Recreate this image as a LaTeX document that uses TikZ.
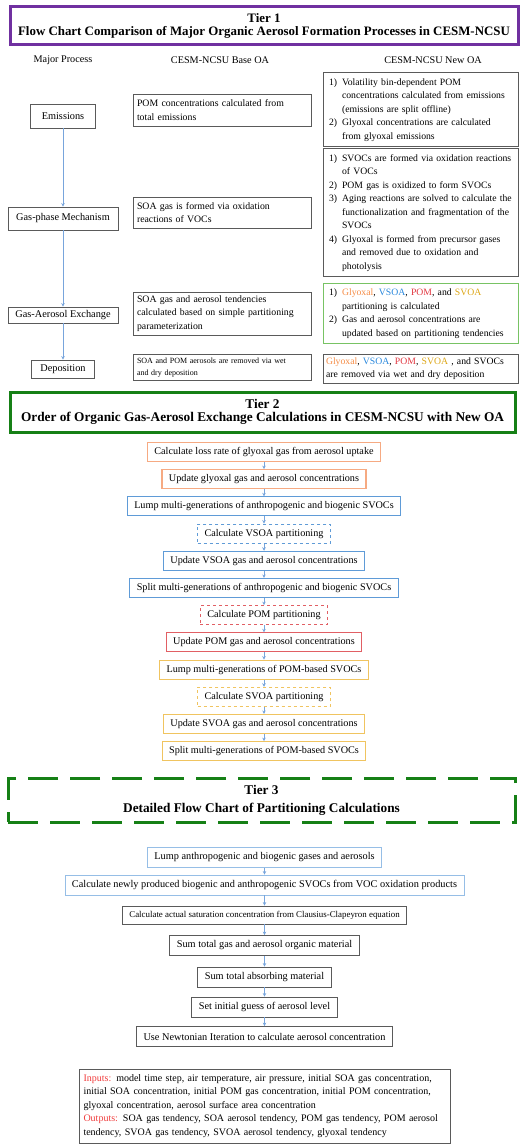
\documentclass[tikz,border=0pt]{standalone}
\usepackage{fontspec}
\setmainfont{Liberation Serif}
\usepackage{xcolor}
\usetikzlibrary{positioning, arrows.meta}
\definecolor{tierpurple}{RGB}{112,48,160}
\definecolor{tiergreen}{RGB}{22,128,22}
\definecolor{boxgray}{RGB}{90,90,90}
\definecolor{arrowblue}{RGB}{120,165,220}
\definecolor{orangeline}{RGB}{246,170,130}
\definecolor{blueline}{RGB}{95,155,215}
\definecolor{redline}{RGB}{225,95,100}
\definecolor{yellowline}{RGB}{240,196,96}
\definecolor{lightblue}{RGB}{150,190,230}
\definecolor{greenline}{RGB}{120,195,100}
\definecolor{cglyoxal}{RGB}{245,140,70}
\definecolor{cvsoa}{RGB}{40,135,220}
\definecolor{cpom}{RGB}{225,55,65}
\definecolor{csvoa}{RGB}{220,165,20}
\definecolor{cinout}{RGB}{240,60,60}
\newcommand{\gly}{\textcolor{cglyoxal}{Glyoxal}}
\newcommand{\vsoa}{\textcolor{cvsoa}{VSOA}}
\newcommand{\pom}{\textcolor{cpom}{POM}}
\newcommand{\svoa}{\textcolor{csvoa}{SVOA}}
\tikzstyle{tierhead} = [line width=3pt, align=center, font=\bfseries\fontsize{13.3}{13.5}\selectfont]
\tikzstyle{colhead} = [font=\fontsize{10.2}{12}\selectfont]
\tikzstyle{major} = [draw=boxgray, line width=0.9pt, fill=white, inner sep=2pt, font=\fontsize{10.3}{12}\selectfont]
\tikzstyle{basebox} = [draw=boxgray, line width=0.9pt, text width=170pt, inner xsep=4pt, align=left, font=\fontsize{9.8}{13.5}\selectfont]
\tikzstyle{newbox} = [draw=boxgray, line width=0.9pt, text width=189pt, inner xsep=3pt, align=left, font=\fontsize{9.7}{13.5}\selectfont]
\tikzstyle{tiertwo} = [line width=1.1pt, minimum height=19pt, inner xsep=7pt, font=\fontsize{10.2}{12}\selectfont]
\tikzstyle{tierthree} = [line width=0.9pt, minimum height=20pt, inner xsep=7pt, font=\fontsize{10.3}{12}\selectfont]
\tikzstyle{flow} = [draw=arrowblue, line width=0.7pt, -{Stealth[length=3.5pt, width=3.5pt]}]

\begin{document}
\begin{tikzpicture}[x=1pt, y=-1pt, node distance=27.2pt]
\useasboundingbox (0,0) rectangle (519,1145);

% Tier 1
\node (tierone) [tierhead, draw=tierpurple, minimum width=508pt, minimum height=38pt, font=\bfseries\fontsize{12.9}{13.5}\selectfont] at (264,26) {Tier 1\\Flow Chart Comparison of Major Organic Aerosol Formation Processes in CESM-NCSU};
\node (hmajor) [colhead] at (63,60) {Major Process};
\node (hbase) [colhead] at (220,60) {CESM-NCSU Base OA};
\node (hnew) [colhead] at (433,60) {CESM-NCSU New OA};

\node (emis) [major, minimum width=65pt, minimum height=24pt] at (63,116) {Emissions};
\node (gasphase) [major, minimum width=110pt, minimum height=23pt] at (63,218.5) {Gas-phase Mechanism};
\node (exchange) [major, minimum width=110pt, minimum height=16pt] at (63,315) {Gas-Aerosol Exchange};
\node (depo) [major, minimum width=63pt, minimum height=18pt] at (63,369) {Deposition};
\draw [flow] (emis) -- (gasphase);
\draw [flow] (gasphase) -- (exchange);
\draw [flow] (exchange) -- (depo);

\node (base1) [basebox, minimum height=32pt] at (222,110) {POM concentrations calculated from\\total emissions};
\node (base2) [basebox, minimum height=31pt] at (222,212.5) {SOA gas is formed via oxidation\\reactions of VOCs};
\node (base3) [basebox, minimum height=43pt] at (222,313.5) {SOA gas and aerosol tendencies\\calculated based on simple partitioning\\parameterization};
\node (base4) [basebox, minimum height=25pt, font=\fontsize{8}{12}\selectfont] at (222,367.5) {SOA and POM aerosols are removed via wet\\and dry deposition};

\node (new1) [newbox, minimum height=71pt] at (420.5,109.5) {\begin{tabular}{@{\hspace{3pt}}l@{\hspace{5pt}}l@{}}
1) & Volatility bin-dependent POM\\
   & concentrations calculated from emissions\\
   & (emissions are split offline)\\
2) & Glyoxal concentrations are calculated\\
   & from glyoxal emissions
\end{tabular}};
\node (new2) [newbox, minimum height=121pt] at (420.5,212.5) {\begin{tabular}{@{\hspace{3pt}}l@{\hspace{5pt}}l@{}}
1) & SVOCs are formed via oxidation reactions\\
   & of VOCs\\
2) & POM gas is oxidized to form SVOCs\\
3) & Aging reactions are solved to calculate the\\
   & functionalization and fragmentation of the\\
   & SVOCs\\
4) & Glyoxal is formed from precursor gases\\
   & and removed due to oxidation and\\
   & photolysis
\end{tabular}};
\node (new3) [newbox, draw=greenline, minimum height=57pt] at (420.5,313.5) {\begin{tabular}{@{\hspace{3pt}}l@{\hspace{5pt}}l@{}}
1) & \gly, \vsoa, \pom, and \svoa\\
   & partitioning is calculated\\
2) & Gas and aerosol concentrations are\\
   & updated based on partitioning tendencies
\end{tabular}};
\node (new4) [newbox, minimum height=27pt] at (420.5,368.5) {\gly, \vsoa, \pom, \svoa\ , and SVOCs\\are removed via wet and dry deposition};

% Tier 2
\node (tiertwo) [tierhead, draw=tiergreen, minimum width=505pt, minimum height=40pt] at (262.5,412) {Tier 2\\Order of Organic Gas-Aerosol Exchange Calculations in CESM-NCSU with New OA};

\node (loss) [tiertwo, draw=orangeline] at (264,452) {Calculate loss rate of glyoxal gas from aerosol uptake};
\node (updgly) [tiertwo, draw=orangeline, below of=loss] {Update glyoxal gas and aerosol concentrations};
\node (lumpsvoc) [tiertwo, draw=blueline, below of=updgly] {Lump multi-generations of anthropogenic and biogenic SVOCs};
\node (vsoapart) [tiertwo, draw=blueline, dashed, below of=lumpsvoc] {Calculate VSOA partitioning};
\node (updvsoa) [tiertwo, draw=blueline, below of=vsoapart] {Update VSOA gas and aerosol concentrations};
\node (splitsvoc) [tiertwo, draw=blueline, below of=updvsoa] {Split multi-generations of anthropogenic and biogenic SVOCs};
\node (pompart) [tiertwo, draw=redline, dashed, below of=splitsvoc] {Calculate POM partitioning};
\node (updpom) [tiertwo, draw=redline, below of=pompart] {Update POM gas and aerosol concentrations};
\node (lumppom) [tiertwo, draw=yellowline, below of=updpom] {Lump multi-generations of POM-based SVOCs};
\node (svoapart) [tiertwo, draw=yellowline, dashed, below of=lumppom] {Calculate SVOA partitioning};
\node (updsvoa) [tiertwo, draw=yellowline, below of=svoapart] {Update SVOA gas and aerosol concentrations};
\node (splitpom) [tiertwo, draw=yellowline, below of=updsvoa] {Split multi-generations of POM-based SVOCs};
\foreach \a/\b in {loss/updgly, updgly/lumpsvoc, lumpsvoc/vsoapart, vsoapart/updvsoa, updvsoa/splitsvoc, splitsvoc/pompart, pompart/updpom, updpom/lumppom, lumppom/svoapart, svoapart/updsvoa, updsvoa/splitpom}
  \draw [flow] (\a) -- (\b);

% Tier 3
\node (tierthree) [tierhead, draw=tiergreen, dash pattern=on 30pt off 12pt, minimum width=507pt, minimum height=44pt, font=\bfseries\fontsize{13.3}{18}\selectfont] at (261.5,800) {Tier 3\\Detailed Flow Chart of Partitioning Calculations};

\node (lumpgas) [tierthree, draw=lightblue] at (264.5,857.5) {Lump anthropogenic and biogenic gases and aerosols};
\node (newsvoc) [tierthree, draw=lightblue, below of=lumpgas, node distance=27.5pt] {Calculate newly produced biogenic and anthropogenic SVOCs from VOC oxidation products};
\node (satconc) [tierthree, draw=boxgray, minimum height=18pt, font=\fontsize{8.9}{10}\selectfont, below of=newsvoc, node distance=30pt] {Calculate actual saturation concentration from Clausius-Clapeyron equation};
\node (sumgas) [tierthree, draw=boxgray, below of=satconc, node distance=30.5pt] {Sum total gas and aerosol organic material};
\node (sumabs) [tierthree, draw=boxgray, below of=sumgas, node distance=31.5pt] {Sum total absorbing material};
\node (guess) [tierthree, draw=boxgray, below of=sumabs, node distance=30pt] {Set initial guess of aerosol level};
\node (newton) [tierthree, draw=boxgray, below of=guess, node distance=29.5pt] {Use Newtonian Iteration to calculate aerosol concentration};
\foreach \a/\b in {lumpgas/newsvoc, newsvoc/satconc, satconc/sumgas, sumgas/sumabs, sumabs/guess, guess/newton}
  \draw [flow] (\a) -- (\b);

\node (inout) [draw=boxgray, line width=0.9pt, minimum width=371pt, minimum height=74pt, text width=362pt, align=left, font=\fontsize{10}{13.5}\selectfont] at (264.5,1106) {\textcolor{cinout}{Inputs:} model time step, air temperature, air pressure, initial SOA gas concentration,\\initial SOA concentration, initial POM gas concentration, initial POM concentration,\\glyoxal concentration, aerosol surface area concentration\\\textcolor{cinout}{Outputs:} SOA gas tendency, SOA aerosol tendency, POM gas tendency, POM aerosol\\tendency, SVOA gas tendency, SVOA aerosol tendency, glyoxal tendency};
\end{tikzpicture}
\end{document}
